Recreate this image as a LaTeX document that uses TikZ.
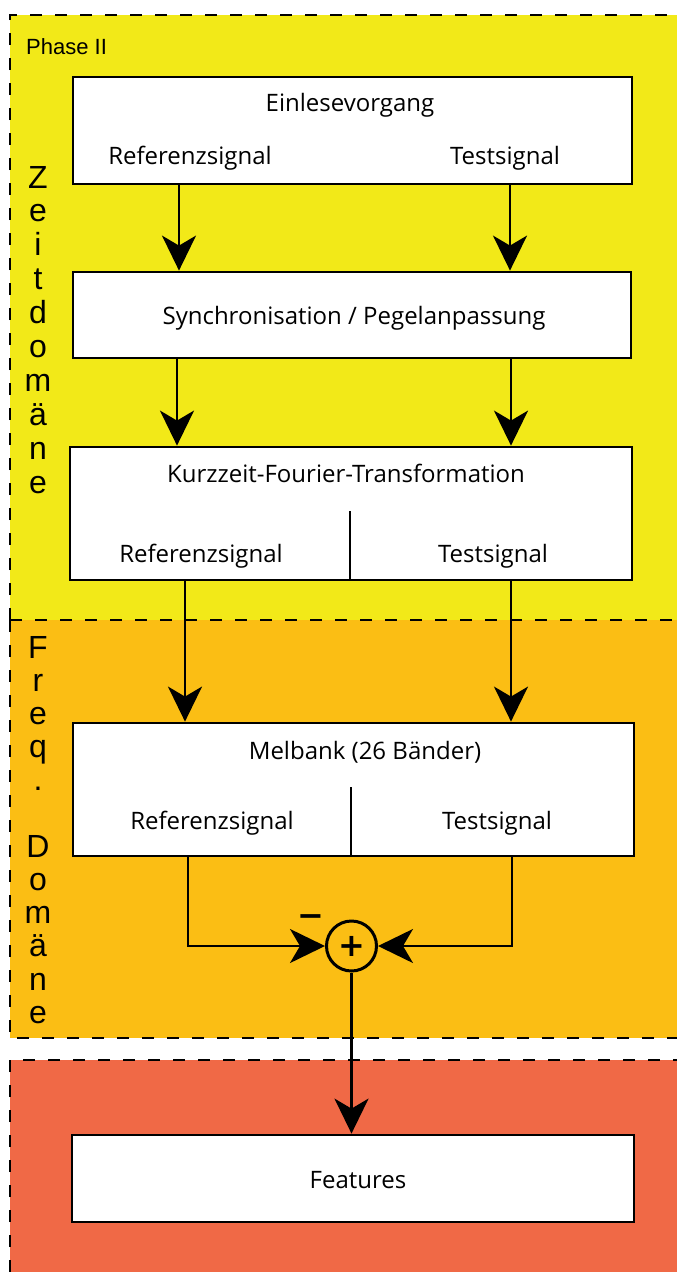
\documentclass[tikz,border=0pt]{standalone}
\usepackage{fontspec}
\setmainfont{Open Sans}
\newfontfamily\helv{Liberation Sans}
\newfontfamily\symf{DejaVu Sans}
\usetikzlibrary{arrows.meta,calc}
\definecolor{zeitcol}{RGB}{242,233,24}
\definecolor{freqcol}{RGB}{251,190,20}
\definecolor{featcol}{RGB}{240,105,70}
\tikzset{
  x=1pt,y=-1pt,
  region/.style={draw=black,line width=2.4pt,dash pattern=on 12pt off 13pt},
  box/.style={draw=black,fill=white,line width=2.8pt,inner sep=0pt},
  lbl/.style={font=\fontsize{24}{28}\selectfont,inner sep=0pt},
  vlet/.style={font=\helv\fontsize{32}{34}\selectfont,inner sep=0pt,anchor=base},
  arr/.style={line width=2.3pt,-{Stealth[length=35pt,width=34pt,inset=10pt]}},
  conn/.style={line width=2.3pt},
}
\begin{document}
\begin{tikzpicture}
\useasboundingbox (0,0) rectangle (677,1272);
% regions
\fill[zeitcol] (10,15) rectangle (677,620);
\fill[freqcol] (10,620) rectangle (677,1038);
\fill[featcol] (10,1060) rectangle (677,1272);
\draw[region] (10,620) -- (10,15) -- (677,15);
\draw[region] (10,620) -- (677,620);
\draw[region] (10,620) -- (10,1038) -- (677,1038);
\draw[region] (10,1272) -- (10,1060) -- (677,1060);
\node[font=\helv\fontsize{22}{26}\selectfont,anchor=base west,inner sep=0pt] (phase) at (26,54) {Phase II};
% vertical labels
\foreach \ch [count=\i from 0] in {Z,e,i,t,d,o,m,ä,n,e}
  \node[vlet] (z\i) at (38,{188+33.9*\i}) {\ch};
\foreach \ch/\k in {F/0,r/1,e/2,q/3,./4,D/6,o/7,m/8,ä/9,n/10,e/11}
  \node[vlet] (f\k) at (38,{658+33.2*\k}) {\ch};
% boxes
\node[box,minimum width=559pt,minimum height=107pt] (b1) at (352.5,130.5) {};
\node[lbl] (t1) at (350,105) {Einlesevorgang};
\node[lbl] (r1) at (190,158) {Referenzsignal};
\node[lbl] (s1) at (505,158) {Testsignal};
\node[box,minimum width=558pt,minimum height=86pt] (b2) at (352,315) {};
\node[lbl] (t2) at (354,318) {Synchronisation / Pegelanpassung};
\node[box,minimum width=562pt,minimum height=133pt] (b3) at (351,513.5) {};
\node[lbl] (t3) at (346,473) {Kurzzeit-Fourier-Transformation};
\node[lbl] (r3) at (201,556) {Referenzsignal};
\node[lbl] (s3) at (493,556) {Testsignal};
\coordinate (d3) at (350,511);
\draw[conn] (d3) -- (d3 |- b3.south);
\node[box,minimum width=561pt,minimum height=133pt] (b4) at (353.5,789.5) {};
\node[lbl] (t4) at (365,752) {Melbank (26 Bänder)};
\node[lbl] (r4) at (212,823) {Referenzsignal};
\node[lbl] (s4) at (497,823) {Testsignal};
\coordinate (d4) at (351,787);
\draw[conn] (d4) -- (d4 |- b4.south);
\node[box,minimum width=562pt,minimum height=87pt] (b5) at (353,1178.5) {};
\node[lbl] (t5) at (358,1180) {Features};
% summation
\node[draw=black,circle,line width=3pt,minimum size=50pt,inner sep=0pt,
      font=\symf\bfseries\fontsize{32}{32}\selectfont] (sum) at (351.5,946) {+};
\node[font=\symf\bfseries\fontsize{32}{32}\selectfont,inner sep=0pt] (minus) at (311,921) {−};
% connectors
\coordinate (c1) at (179,0); \coordinate (c2) at (510,0);
\coordinate (c3) at (177,0); \coordinate (c4) at (511,0);
\coordinate (c5) at (185,0); \coordinate (c6) at (511,0);
\coordinate (c7) at (188,0); \coordinate (c8) at (512,0);
\draw[arr] (b1.south -| c1) -- (b2.north -| c1);
\draw[arr] (b1.south -| c2) -- (b2.north -| c2);
\draw[arr] (b2.south -| c3) -- (b3.north -| c3);
\draw[arr] (b2.south -| c4) -- (b3.north -| c4);
\draw[arr] (b3.south -| c5) -- (b4.north -| c5);
\draw[arr] (b3.south -| c6) -- (b4.north -| c6);
\draw[arr] (b4.south -| c7) |- (sum.west);
\draw[arr] (b4.south -| c8) |- (sum.east);
\draw[arr] (sum.south) -- (b5.north -| sum.south);
\end{tikzpicture}
\end{document}
